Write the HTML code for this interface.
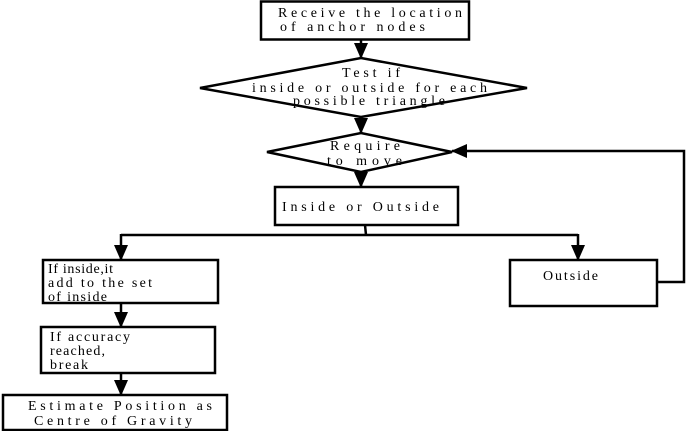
<!DOCTYPE html>
<html><head><style>
body{margin:0;background:#fff;}
svg text{font-family:"Liberation Serif",serif;font-size:14px;fill:#000;}
</style></head><body>
<svg width="687" height="431" viewBox="0 0 687 431" xmlns="http://www.w3.org/2000/svg">
<defs>
<marker id="b" markerWidth="16" markerHeight="14" refX="15" refY="7" orient="auto" markerUnits="userSpaceOnUse"><path d="M0,0 L16,7 L0,14z" fill="#000"/></marker></defs>
<g fill="none" stroke="#000" stroke-width="2.5">
<rect x="261" y="1.5" width="208" height="38"/>
<polygon points="200,88 361,58 527,88 361,117"/>
<polygon points="267,152 361,133 452,152 361,172"/>
<rect x="275" y="187" width="183" height="38"/>
<rect x="43" y="260" width="175" height="43"/>
<rect x="510" y="260" width="147" height="46"/>
<rect x="41" y="327" width="174" height="46"/>
<rect x="3" y="395" width="224" height="35"/>
<line x1="361" y1="40" x2="361" y2="58" marker-end="url(#b)"/>
<line x1="361" y1="117" x2="361" y2="133" marker-end="url(#b)"/>
<line x1="361" y1="172" x2="361" y2="187" marker-end="url(#b)"/>
<polyline points="365,225 366,235"/>
<polyline points="121,235 578,235"/>
<line x1="121" y1="234" x2="121" y2="260" marker-end="url(#b)"/>
<line x1="578" y1="234" x2="578" y2="260" marker-end="url(#b)"/>
<line x1="121" y1="303" x2="121" y2="327" marker-end="url(#b)"/>
<line x1="121" y1="373" x2="121" y2="395" marker-end="url(#b)"/>
<polyline points="657,282 684,282 684,151 452,151" marker-end="url(#b)"/>
</g>
<text x="278" y="17" textLength="184" lengthAdjust="spacing">Receive the location</text>
<text x="280" y="31" textLength="145" lengthAdjust="spacing">of anchor nodes</text>
<text x="342" y="77" textLength="58" lengthAdjust="spacing">Test if</text>
<text x="252" y="92" textLength="235" lengthAdjust="spacing">inside or outside for each</text>
<text x="293" y="105" textLength="152" lengthAdjust="spacing">possible triangle</text>
<text x="330" y="150" textLength="70" lengthAdjust="spacing">Require</text>
<text x="327" y="165" textLength="75" lengthAdjust="spacing">to move</text>
<text x="282" y="211" textLength="157" lengthAdjust="spacing">Inside or Outside</text>
<text x="48" y="273" textLength="65" lengthAdjust="spacing">If inside,it</text>
<text x="48" y="287" textLength="104" lengthAdjust="spacing">add to the set</text>
<text x="48" y="301" textLength="59" lengthAdjust="spacing">of inside</text>
<text x="543" y="280" textLength="55" lengthAdjust="spacing">Outside</text>
<text x="50" y="341" textLength="80" lengthAdjust="spacing">If accuracy</text>
<text x="50" y="355" textLength="55" lengthAdjust="spacing">reached,</text>
<text x="50" y="369" textLength="38" lengthAdjust="spacing">break</text>
<text x="28" y="410" textLength="184" lengthAdjust="spacing">Estimate Position as</text>
<text x="34" y="425" textLength="158" lengthAdjust="spacing">Centre of Gravity</text>
</svg>
</body></html>
